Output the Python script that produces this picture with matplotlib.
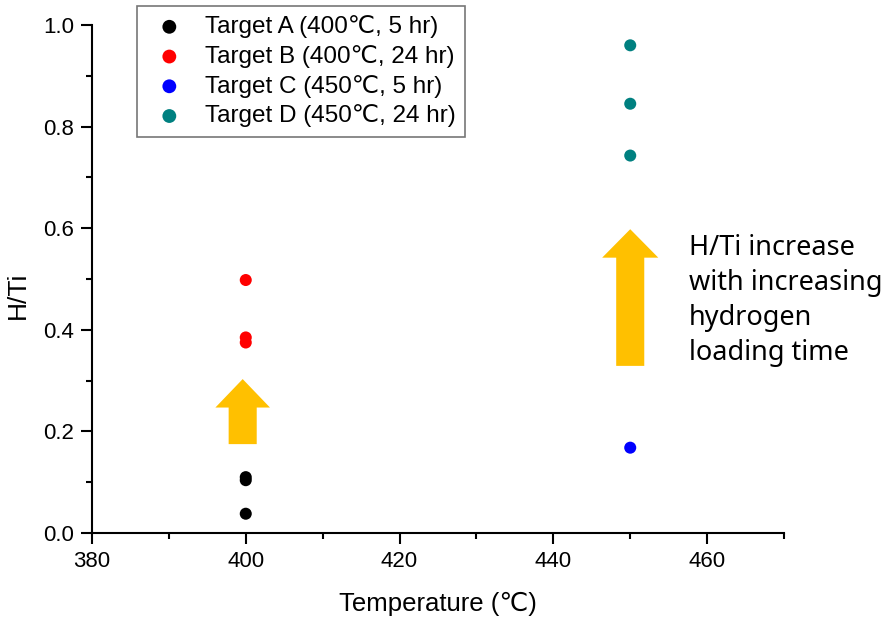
import numpy as np
import matplotlib.pyplot as plt
from matplotlib.ticker import MultipleLocator

plt.rcParams['font.family'] = ['Liberation Sans Narrow', 'Liberation Sans', 'DejaVu Sans']

# H/Ti ratio measured for each hydrogen loading condition
labels = [
    "Target A (400\u2103, 5 hr)",
    "Target B (400\u2103, 24 hr)",
    "Target C (450\u2103, 5 hr)",
    "Target D (450\u2103, 24 hr)",
]
colors = ["#000000", "#ff0000", "#0000ff", "#008080"]
temp_a = [400, 400, 400]
ht_a = [0.038, 0.104, 0.110]
temp_b = [400, 400, 400]
ht_b = [0.498, 0.385, 0.375]
temp_c = [450]
ht_c = [0.168]
temp_d = [450, 450, 450]
ht_d = [0.960, 0.845, 0.743]

fig = plt.figure(figsize=(8.86, 6.17), dpi=100)
ax = fig.add_axes([0.1038, 0.1361, 0.7811, 0.8234])

series = [(temp_a, ht_a), (temp_b, ht_b), (temp_c, ht_c), (temp_d, ht_d)]
for (t, h), lab, col in zip(series, labels, colors):
    ax.scatter(t, h, s=75, color=col, edgecolors='none', label=lab, zorder=3)

# trend arrows
arrow_col = "#ffc000"
ax.arrow(399.6, 0.175, 0, 0.128, width=3.65, head_width=7.1, head_length=0.056,
         length_includes_head=True, color=arrow_col, lw=0, zorder=2)
ax.arrow(450.0, 0.329, 0, 0.269, width=3.65, head_width=7.3, head_length=0.056,
         length_includes_head=True, color=arrow_col, lw=0, zorder=2)

fig.text(689 / 886, 1 - 234 / 617,
         "H/Ti increase\nwith increasing\nhydrogen\nloading time",
         fontsize=19.5, family=['Noto Sans', 'DejaVu Sans'], va='top', ha='left',
         linespacing=1.33)

ax.set_xlim(380, 470)
ax.set_ylim(0, 1.0)
ax.xaxis.set_major_locator(MultipleLocator(20))
ax.xaxis.set_minor_locator(MultipleLocator(10))
ax.yaxis.set_major_locator(MultipleLocator(0.2))
ax.yaxis.set_minor_locator(MultipleLocator(0.1))
ax.yaxis.set_major_formatter(plt.FormatStrFormatter('%.1f'))
ax.spines['top'].set_visible(False)
ax.spines['right'].set_visible(False)
for s in ['left', 'bottom']:
    ax.spines[s].set_linewidth(1.5)
ax.tick_params(which='major', direction='out', length=8, width=1.5, labelsize=16, pad=5)
ax.tick_params(which='minor', direction='out', length=4, width=1.5)

ax.set_xlabel("Temperature (\u2103)", fontsize=18.5, labelpad=14)
ax.set_ylabel("H/Ti", fontsize=19)
ax.yaxis.set_label_coords(-0.09, 0.467)

leg = ax.legend(loc='upper left', bbox_to_anchor=(137 / 886, 1 - 6 / 617),
                bbox_transform=fig.transFigure, frameon=True,
                prop={'family': ['Liberation Sans', 'DejaVu Sans'], 'size': 17.5},
                fancybox=False, edgecolor='#555555', handletextpad=0.5,
                borderpad=0.38, labelspacing=0.28, handlelength=1.9,
                borderaxespad=0, markerscale=1.15)
leg.get_frame().set_linewidth(1.2)

fig.savefig("out.png", dpi=100)
